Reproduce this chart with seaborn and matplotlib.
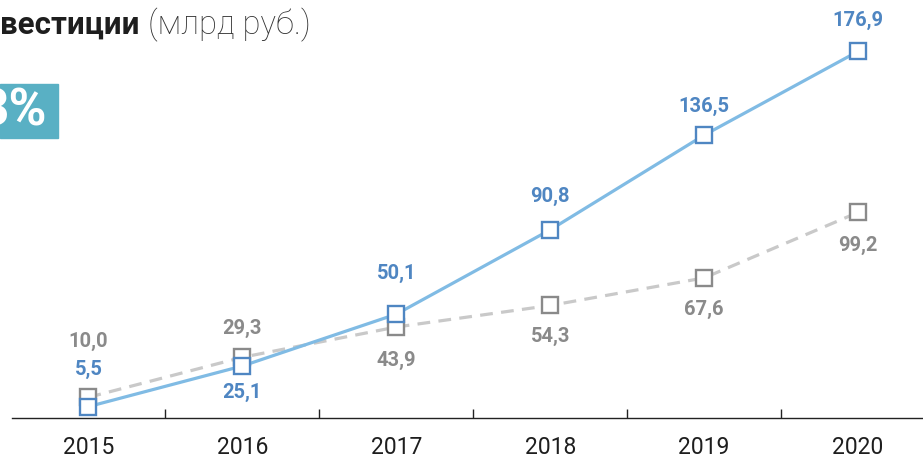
import matplotlib
matplotlib.use("Agg")
import matplotlib.pyplot as plt
import matplotlib.patches as mpatches
import seaborn as sns
import pandas as pd

# данные
years = ["2015", "2016", "2017", "2018", "2019", "2020"]
invest_blue = [5.5, 25.1, 50.1, 90.8, 136.5, 176.9]
invest_gray = [10.0, 29.3, 43.9, 54.3, 67.6, 99.2]
blue_labels = ["5,5", "25,1", "50,1", "90,8", "136,5", "176,9"]
gray_labels = ["10,0", "29,3", "43,9", "54,3", "67,6", "99,2"]

# смещения подписей (в пунктах)
blue_off = [27, -19, 29, 24, 21, 22]
gray_off = [40, 21, -24, -22, -23, -24]

BLUE_LINE = "#80bbe4"
BLUE_DARK = "#4f86c2"
GRAY_LINE = "#c9c9c9"
GRAY_DARK = "#8a8a8a"
TEAL = "#59b0c4"

sns.set_theme(style="white")
plt.rcParams["font.family"] = ["Roboto", "DejaVu Sans"]

W, H = 923, 458
fig = plt.figure(figsize=(W / 100, H / 100), dpi=100)
ax = fig.add_axes([11.5 / W, (H - 418) / H, 923.5 / W, 418 / H])

df = pd.DataFrame({"x": range(len(years)), "blue": invest_blue, "gray": invest_gray})

sns.lineplot(data=df, x="x", y="gray", ax=ax, color=GRAY_LINE, linewidth=2.3,
             linestyle=(0, (4, 2.6)), marker="s", markersize=11,
             markerfacecolor="white", markeredgecolor=GRAY_DARK, markeredgewidth=1.7,
             zorder=2)
sns.lineplot(data=df, x="x", y="blue", ax=ax, color=BLUE_LINE, linewidth=2.3,
             marker="s", markersize=11, markerfacecolor="white",
             markeredgecolor=BLUE_DARK, markeredgewidth=1.7, zorder=3)

for i, (v, lab, off) in enumerate(zip(invest_blue, blue_labels, blue_off)):
    ax.annotate(lab, (i, v), xytext=(0, off), textcoords="offset points",
                ha="center", va="center", fontsize=14.5, fontweight="bold", color=BLUE_DARK)
for i, (v, lab, off) in enumerate(zip(invest_gray, gray_labels, gray_off)):
    ax.annotate(lab, (i, v), xytext=(0, off), textcoords="offset points",
                ha="center", va="center", fontsize=14.5, fontweight="bold", color=GRAY_DARK)

ax.set_xlim(-0.5, 5.5)
ax.set_ylim(0, 201.7)
ax.set_xticks(range(len(years)))
ax.set_xticklabels(years, fontsize=16.5, fontweight="normal", color="#1e1e1e")
ax.set_xticks([i + 0.5 for i in range(len(years) - 1)], minor=True)
ax.tick_params(axis="x", which="major", length=0, pad=13)
ax.tick_params(axis="x", which="minor", direction="in", length=6.5, width=1, color="#222222", bottom=True)
ax.set_yticks([])
ax.set_xlabel("")
ax.set_ylabel("")
for s in ["top", "left", "right"]:
    ax.spines[s].set_visible(False)
ax.spines["bottom"].set_color("#222222")
ax.spines["bottom"].set_linewidth(1)

# заголовок
fig.canvas.draw()
r = fig.canvas.get_renderer()
t1 = fig.text(0, 1 - 25 / H, "вестиции", fontsize=22.5, fontweight="bold",
              color="#1e1e1e", va="center", ha="left")
bb = t1.get_window_extent(renderer=r)
fig.text((bb.x1 + 9) / W, 1 - 25 / H, "(млрд руб.)", fontsize=23.5,
         fontweight="light", color="#333333", va="center", ha="left")

# плашка
fig.patches.append(mpatches.Rectangle((0, 1 - 138 / H), 58 / W, 54 / H,
                                      transform=fig.transFigure, color=TEAL, zorder=0))
fig.text(47 / W, 1 - 112 / H, "3%", fontsize=37, fontweight="bold",
         color="white", ha="right", va="center")

plt.savefig("out.png", dpi=100)
